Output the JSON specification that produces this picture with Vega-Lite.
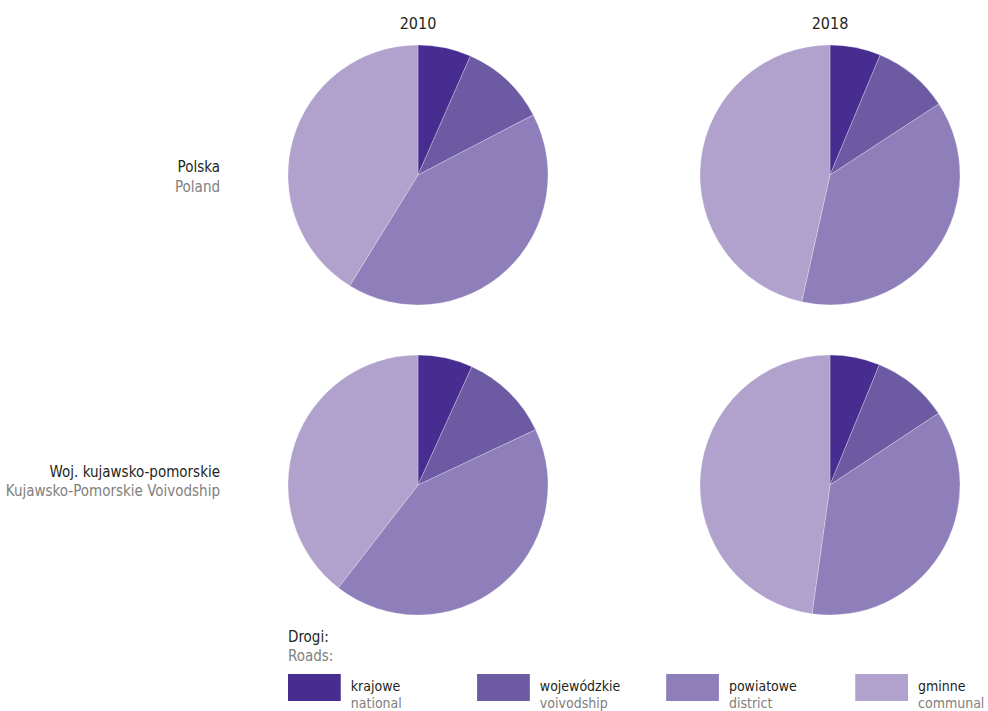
{
  "$schema": "https://vega.github.io/schema/vega-lite/v6.json",
  "padding": {"top": 16, "left": 0, "right": 0, "bottom": 0},
  "background": "#ffffff",
  "config": {
    "view": {"stroke": null},
    "font": "DejaVu Sans Condensed, DejaVu Sans, sans-serif",
    "title": {"font": "DejaVu Sans Condensed, DejaVu Sans, sans-serif", "fontSize": 16, "fontWeight": "normal", "color": "#231f20", "offset": 12},
    "text": {"font": "DejaVu Sans Condensed, DejaVu Sans, sans-serif", "fontSize": 15}
  },
  "datasets": {
    "roads": [
      {"region": "PL", "year": "2010", "cat": "krajowe", "ord": 1, "value": 6.6},
      {"region": "PL", "year": "2010", "cat": "wojewódzkie", "ord": 2, "value": 10.75},
      {"region": "PL", "year": "2010", "cat": "powiatowe", "ord": 3, "value": 41.45},
      {"region": "PL", "year": "2010", "cat": "gminne", "ord": 4, "value": 41.2},
      {"region": "PL", "year": "2018", "cat": "krajowe", "ord": 1, "value": 6.3},
      {"region": "PL", "year": "2018", "cat": "wojewódzkie", "ord": 2, "value": 9.5},
      {"region": "PL", "year": "2018", "cat": "powiatowe", "ord": 3, "value": 37.7},
      {"region": "PL", "year": "2018", "cat": "gminne", "ord": 4, "value": 46.5},
      {"region": "KP", "year": "2010", "cat": "krajowe", "ord": 1, "value": 6.8},
      {"region": "KP", "year": "2010", "cat": "wojewódzkie", "ord": 2, "value": 11.2},
      {"region": "KP", "year": "2010", "cat": "powiatowe", "ord": 3, "value": 42.5},
      {"region": "KP", "year": "2010", "cat": "gminne", "ord": 4, "value": 39.5},
      {"region": "KP", "year": "2018", "cat": "krajowe", "ord": 1, "value": 6.2},
      {"region": "KP", "year": "2018", "cat": "wojewódzkie", "ord": 2, "value": 9.5},
      {"region": "KP", "year": "2018", "cat": "powiatowe", "ord": 3, "value": 36.5},
      {"region": "KP", "year": "2018", "cat": "gminne", "ord": 4, "value": 47.8}
    ],
    "labels": [
      {"region": "PL", "pl": "Polska", "en": "Poland"},
      {"region": "KP", "pl": "Woj. kujawsko-pomorskie", "en": "Kujawsko-Pomorskie Voivodship"}
    ],
    "legend": [
      {"cat": "krajowe", "en": "national", "ord": 1},
      {"cat": "wojewódzkie", "en": "voivodship", "ord": 2},
      {"cat": "powiatowe", "en": "district", "ord": 3},
      {"cat": "gminne", "en": "communal", "ord": 4}
    ]
  },
  "hconcat": [
    {
      "vconcat": [
        {
          "width": 220, "height": 260,
          "data": {"name": "labels"},
          "transform": [{"filter": "datum.region === 'PL'"}],
          "layer": [
            {"mark": {"type": "text", "x": "width", "align": "right", "baseline": "alphabetic", "dy": -3.5, "color": "#231f20"}, "encoding": {"text": {"field": "pl"}}},
            {"mark": {"type": "text", "x": "width", "align": "right", "baseline": "alphabetic", "dy": 16.5, "color": "#808080"}, "encoding": {"text": {"field": "en"}}}
          ]
        },
        {
          "width": 220, "height": 260,
          "data": {"name": "labels"},
          "transform": [{"filter": "datum.region === 'KP'"}],
          "layer": [
            {"mark": {"type": "text", "x": "width", "align": "right", "baseline": "alphabetic", "dy": -6, "color": "#231f20"}, "encoding": {"text": {"field": "pl"}}},
            {"mark": {"type": "text", "x": "width", "align": "right", "baseline": "alphabetic", "dy": 13, "color": "#808080"}, "encoding": {"text": {"field": "en"}}}
          ]
        }
      ],
      "spacing": 48
    },
    {
      "vconcat": [
        {
          "vconcat": [
            {
              "hconcat": [
                {
                  "title": "2010",
                  "width": 260, "height": 260,
                  "data": {"name": "roads"},
                  "transform": [{"filter": "datum.region === 'PL' && datum.year === '2010'"}],
                  "mark": {"type": "arc", "stroke": "#ffffff", "strokeWidth": 0.5, "strokeOpacity": 0.5},
                  "encoding": {
                    "theta": {"field": "value", "type": "quantitative", "stack": true},
                    "order": {"field": "ord", "type": "quantitative"},
                    "color": {"field": "cat", "type": "nominal", "legend": null, "scale": {"domain": ["krajowe", "wojewódzkie", "powiatowe", "gminne"], "range": ["#482d91", "#6c5aa3", "#8e7fba", "#b0a2cd"]}}
                  }
                },
                {
                  "title": "2018",
                  "width": 260, "height": 260,
                  "data": {"name": "roads"},
                  "transform": [{"filter": "datum.region === 'PL' && datum.year === '2018'"}],
                  "mark": {"type": "arc", "stroke": "#ffffff", "strokeWidth": 0.5, "strokeOpacity": 0.5},
                  "encoding": {
                    "theta": {"field": "value", "type": "quantitative", "stack": true},
                    "order": {"field": "ord", "type": "quantitative"},
                    "color": {"field": "cat", "type": "nominal", "legend": null, "scale": {"domain": ["krajowe", "wojewódzkie", "powiatowe", "gminne"], "range": ["#482d91", "#6c5aa3", "#8e7fba", "#b0a2cd"]}}
                  }
                }
              ],
              "spacing": 150
            },
            {
              "hconcat": [
                {
                  "width": 260, "height": 260,
                  "data": {"name": "roads"},
                  "transform": [{"filter": "datum.region === 'KP' && datum.year === '2010'"}],
                  "mark": {"type": "arc", "stroke": "#ffffff", "strokeWidth": 0.5, "strokeOpacity": 0.5},
                  "encoding": {
                    "theta": {"field": "value", "type": "quantitative", "stack": true},
                    "order": {"field": "ord", "type": "quantitative"},
                    "color": {"field": "cat", "type": "nominal", "legend": null, "scale": {"domain": ["krajowe", "wojewódzkie", "powiatowe", "gminne"], "range": ["#482d91", "#6c5aa3", "#8e7fba", "#b0a2cd"]}}
                  }
                },
                {
                  "width": 260, "height": 260,
                  "data": {"name": "roads"},
                  "transform": [{"filter": "datum.region === 'KP' && datum.year === '2018'"}],
                  "mark": {"type": "arc", "stroke": "#ffffff", "strokeWidth": 0.5, "strokeOpacity": 0.5},
                  "encoding": {
                    "theta": {"field": "value", "type": "quantitative", "stack": true},
                    "order": {"field": "ord", "type": "quantitative"},
                    "color": {"field": "cat", "type": "nominal", "legend": null, "scale": {"domain": ["krajowe", "wojewódzkie", "powiatowe", "gminne"], "range": ["#482d91", "#6c5aa3", "#8e7fba", "#b0a2cd"]}}
                  }
                }
              ],
              "spacing": 150
            }
          ],
          "spacing": 48
        },
        {
          "title": {"text": "Drogi:", "subtitle": "Roads:", "anchor": "start", "fontSize": 15, "subtitleFontSize": 15, "subtitleColor": "#808080", "subtitlePadding": 3.7, "subtitleFont": "DejaVu Sans Condensed, DejaVu Sans, sans-serif", "offset": 10},
          "width": 620, "height": 27,
          "data": {"name": "legend"},
          "encoding": {
            "x": {"field": "cat", "type": "nominal", "axis": null, "sort": ["krajowe", "wojewódzkie", "powiatowe", "gminne"], "scale": {"type": "band", "paddingInner": 0.721, "paddingOuter": 0}}
          },
          "layer": [
            {"mark": {"type": "bar"}, "encoding": {"color": {"field": "cat", "type": "nominal", "legend": null, "scale": {"domain": ["krajowe", "wojewódzkie", "powiatowe", "gminne"], "range": ["#482d91", "#6c5aa3", "#8e7fba", "#b0a2cd"]}}}},
            {"mark": {"type": "text", "align": "left", "baseline": "alphabetic", "dx": 10, "dy": 3.5, "fontSize": 14, "color": "#231f20"}, "encoding": {"x": {"field": "cat", "type": "nominal", "bandPosition": 1, "sort": ["krajowe", "wojewódzkie", "powiatowe", "gminne"]}, "text": {"field": "cat"}}},
            {"mark": {"type": "text", "align": "left", "baseline": "alphabetic", "dx": 10, "dy": 20.5, "fontSize": 14, "color": "#808080"}, "encoding": {"x": {"field": "cat", "type": "nominal", "bandPosition": 1, "sort": ["krajowe", "wojewódzkie", "powiatowe", "gminne"]}, "text": {"field": "en"}}}
          ]
        }
      ],
      "spacing": 14
    }
  ],
  "spacing": 67
}
